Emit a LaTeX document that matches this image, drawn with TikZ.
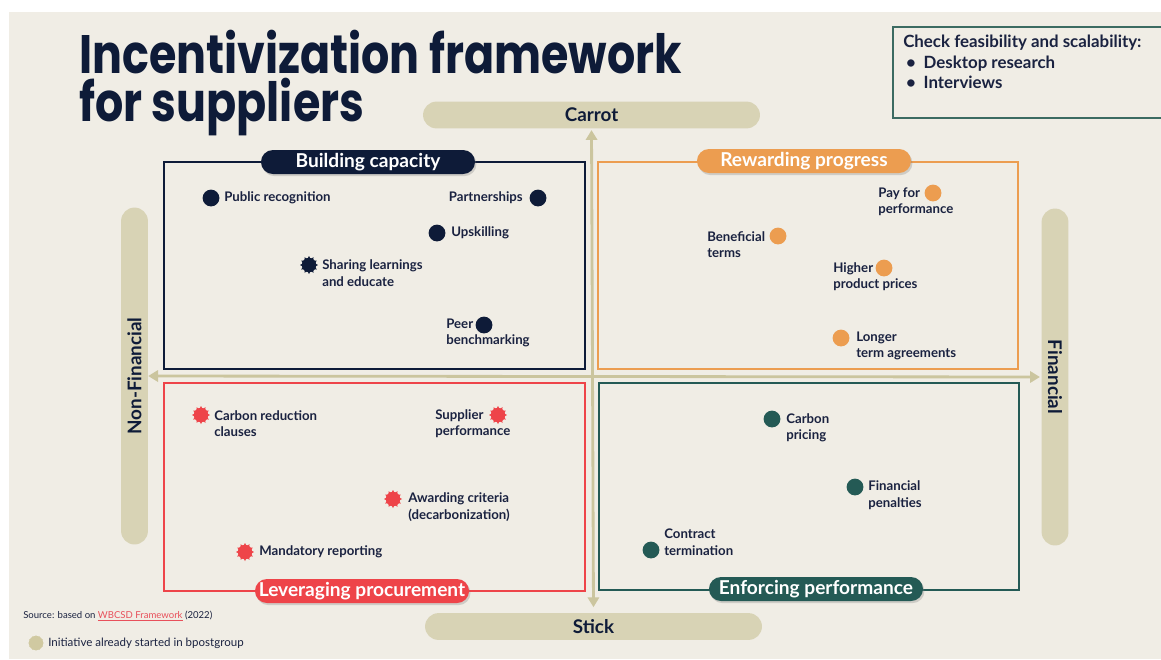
\documentclass[tikz,border=0pt]{standalone}
\usepackage{fontspec}
\setmainfont{Lato}
\newfontfamily\headfont{Poppins}
\usepackage{tikz}
\usetikzlibrary{arrows.meta,shapes.geometric,shapes.misc,shadows}
\definecolor{bpbg}{HTML}{F0EDE5}
\definecolor{bpsand}{HTML}{D8D3B5}
\definecolor{bpaxis}{HTML}{CBC59E}
\definecolor{bpnavy}{HTML}{0E1B38}
\definecolor{bporange}{HTML}{EC9D50}
\definecolor{bpred}{HTML}{EE4449}
\definecolor{bpteal}{HTML}{245A55}
\definecolor{bpbox}{HTML}{3C6B62}
\definecolor{bptext}{HTML}{1A2240}
\definecolor{bpstarted}{HTML}{D0C9A1}
\definecolor{bplink}{HTML}{E8505B}

\tikzset{
  gear core/.store in=\gearcore, gear core=0.18cm,
  dot/.style={circle, fill=#1, minimum size=0.42cm, inner sep=0pt},
  gear/.style={star, star points=12, star point ratio=1.45, fill=#1, minimum size=0.45cm, inner sep=0pt,
    append after command={\pgfextra{\fill[#1] (\tikzlastnode.center) circle (\gearcore);}}},
  item/.style={anchor=west, align=left, inner sep=0pt, text=bptext, font=\fontsize{9.4}{11.7}\selectfont\bfseries},
  quad/.style={draw=#1, line width=1pt},
  tagpill/.style={rounded rectangle, fill=#1, text=white, minimum width=5.35cm, minimum height=0.6cm,
    inner sep=0pt, font=\fontsize{13.6}{15}\selectfont\bfseries,
    drop shadow={opacity=0.3, shadow xshift=1pt, shadow yshift=-1.5pt}},
  axispill/.style={rounded rectangle, fill=bpsand, text=bpnavy, inner sep=0pt,
    minimum width=8.42cm, minimum height=0.67cm, font=\fontsize{13.4}{15}\selectfont\bfseries},
  axis/.style={{Triangle[width=8pt,length=7pt]}-{Triangle[width=8pt,length=7pt]}, line width=2pt, draw=bpaxis},
}

\begin{document}
\begin{tikzpicture}[x=0.025cm, y=-0.025cm]
  \useasboundingbox (0,0) rectangle (1161,659);
  \fill[white] (0,0) rectangle (1161,659);
  \fill[bpbg] (9,12) rectangle (1161,659);

  % Title
  \node[anchor=north west, align=left, inner sep=0pt, xscale=0.82, text=bpnavy,
    font=\headfont\fontsize{38.5}{34.1}\selectfont\bfseries] (title) at (79,30)
    {Incentivization framework\\for suppliers};

  % Feasibility check box
  \draw[bpbox, line width=0.8pt] (893,27) rectangle (1170,118);
  \node[anchor=north west, align=left, inner sep=0pt, text=bptext, font=\fontsize{12}{14.6}\selectfont\bfseries] (checks) at (903,35) {%
    Check feasibility and scalability:\\
    \hspace{2pt}\makebox[12.5pt][l]{\textbullet}Desktop research\\
    \hspace{2pt}\makebox[12.5pt][l]{\textbullet}Interviews};

  % Axis pills
  \node[axispill] (carrot) at (591.5,115) {Carrot};
  \node[axispill] (stick) at (593.5,626.5) {Stick};
  \node[axispill, rotate=90] (nonfin) at (134.5,376) {Non-Financial};
  \node[axispill, rotate=-90] (fin) at (1055,377) {Financial};

  % Axes
  \draw[axis, shorten >=1pt, shorten <=4pt] (stick.north) -- (carrot.south);
  \draw[axis, shorten >=1pt] (nonfin.south) -- (fin.south);

  % Quadrant frames
  \draw[quad=bpnavy] (164,162) rectangle (585,369);
  \draw[quad=bporange] (598,162) rectangle (1018,369);
  \draw[quad=bpred] (164,383) rectangle (585,591);
  \draw[quad=bpteal] (599,383) rectangle (1019,590);

  % Quadrant labels
  \node[tagpill=bpnavy] (capacity) at (368,162) {Building capacity};
  \node[tagpill=bporange] (reward) at (804,161) {Rewarding progress};
  \node[tagpill=bpred] (procure) at (362,591) {Leveraging procurement};
  \node[tagpill=bpteal] (enforce) at (816,589) {Enforcing performance};

  % Building capacity
  \node[dot=bpnavy] (pubrec) at (211,198) {};
  \node[item] (pubrec-t) at (224,198) {Public recognition};
  \node[dot=bpnavy] (partner) at (538,198) {};
  \node[item, anchor=east] (partner-t) at (523,198) {Partnerships};
  \node[dot=bpnavy] (upskill) at (437,233) {};
  \node[item] (upskill-t) at (451,233) {Upskilling};
  \node[gear=bpnavy] (sharing) at (309,265) {};
  \node[item] (sharing-t) at (322,273) {Sharing learnings\\and educate};
  \node[dot=bpnavy] (peer) at (484,325) {};
  \node[item] (peer-t) at (446,333) {Peer\\benchmarking};

  % Rewarding progress
  \node[dot=bporange] (payperf) at (933,193) {};
  \node[item] (payperf-t) at (878,202) {Pay for\\performance};
  \node[dot=bporange] (benefit) at (778,236) {};
  \node[item] (benefit-t) at (707,244.5) {Beneficial\\terms};
  \node[dot=bporange] (higher) at (884,268) {};
  \node[item] (higher-t) at (833,276.5) {Higher\\product prices};
  \node[dot=bporange] (longer) at (841,338) {};
  \node[item] (longer-t) at (856,346) {Longer\\term agreements};

  % Leveraging procurement
  \node[gear=bpred] (carbred) at (201,415) {};
  \node[item] (carbred-t) at (214,423.5) {Carbon reduction\\clauses};
  \node[gear=bpred] (supplier) at (498,415) {};
  \node[item] (supplier-t) at (435,423.5) {Supplier\\performance};
  \node[gear=bpred] (awarding) at (393,499) {};
  \node[item] (awarding-t) at (408,507) {Awarding criteria\\(decarbonization)};
  \node[gear=bpred] (mandatory) at (245,552) {};
  \node[item] (mandatory-t) at (259,552) {Mandatory reporting};

  % Enforcing performance
  \node[dot=bpteal] (carbprice) at (772,419) {};
  \node[item] (carbprice-t) at (786,427.5) {Carbon\\pricing};
  \node[dot=bpteal] (finpen) at (855,487) {};
  \node[item] (finpen-t) at (868,495) {Financial\\penalties};
  \node[dot=bpteal] (contract) at (651,550) {};
  \node[item] (contract-t) at (664,542) {Contract\\termination};

  % Source and legend
  \node[anchor=west, inner sep=0pt, text=bptext, font=\fontsize{6.8}{8}\selectfont] (source) at (23,616)
    {Source: based on \textcolor{bplink}{\underline{WBCSD Framework}} (2022)};
  \node[gear=bpstarted, gear core=0.155cm, minimum size=0.39cm] (started) at (36,643) {};
  \node[anchor=west, inner sep=0pt, text=bptext, font=\fontsize{8.2}{9}\selectfont] (started-t) at (48,643)
    {Initiative already started in bpostgroup};
\end{tikzpicture}
\end{document}
